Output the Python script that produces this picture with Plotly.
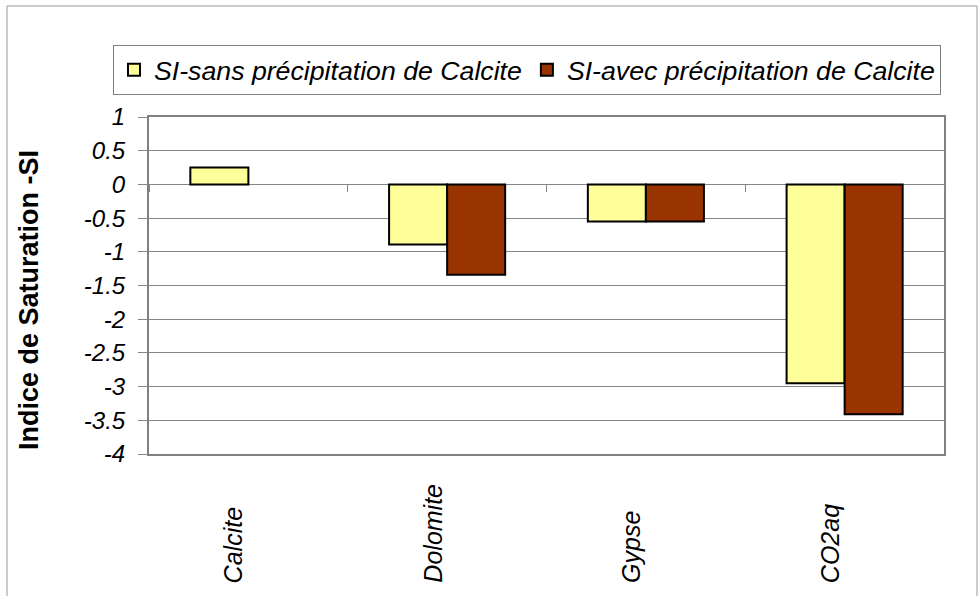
import plotly.graph_objects as go

# Saturation indices (SI) per mineral phase
categories = ["Calcite", "Dolomite", "Gypse", "CO2aq"]
si_sans = [0.25, -0.89, -0.55, -2.95]
si_avec = [None, -1.34, -0.55, -3.41]
series_names = ["SI-sans précipitation de Calcite", "SI-avec précipitation de Calcite"]
y_ticks = [1, 0.5, 0, -0.5, -1, -1.5, -2, -2.5, -3, -3.5, -4]

W, H = 979, 596
ML, MR, MT, MB = 149, 35, 117, 142
PW, PH = W - ML - MR, H - MT - MB


def px_x(p):
    return (p - ML) / PW


def px_y(p):
    return (H - MB - p) / PH


FONT = "Arial, 'Liberation Sans', sans-serif"
GRID = "#868686"

fig = go.Figure()
fig.add_trace(go.Bar(
    x=categories, y=si_sans, name=series_names[0],
    marker=dict(color="#FFFF99", line=dict(color="#000000", width=2)),
))
fig.add_trace(go.Bar(
    x=categories, y=si_avec, name=series_names[1],
    marker=dict(color="#993300", line=dict(color="#000000", width=2)),
))
# helper trace so the category-boundary tick axis is drawn
fig.add_trace(go.Scatter(x=[], y=[], xaxis="x2", showlegend=False, hoverinfo="skip"))

fig.update_layout(
    width=W, height=H,
    margin=dict(l=ML, r=MR, t=MT, b=MB),
    paper_bgcolor="white", plot_bgcolor="white",
    barmode="group", bargap=0.416, bargroupgap=0,
    font=dict(family=FONT, color="#000000"),
    showlegend=True,
    legend=dict(
        orientation="h",
        x=px_x(113), xanchor="left",
        y=px_y(45), yanchor="top",
        bordercolor="#808080", borderwidth=1,
        bgcolor="white",
        font=dict(family=FONT, size=26.7, style="italic"),
        itemwidth=30,
        traceorder="normal",
    ),
    xaxis=dict(
        type="category", range=[-0.5, 3.5],
        showticklabels=False, ticks="",
        showgrid=False, zeroline=False,
        showline=True, linecolor="#808080", linewidth=2, mirror=True,
    ),
    xaxis2=dict(
        overlaying="x", anchor="free", position=px_y(184.4),
        range=[-0.5, 3.5],
        tickvals=[-0.5, 0.5, 1.5, 2.5, 3.5],
        ticks="outside", ticklen=7, tickcolor=GRID, tickwidth=1,
        showticklabels=False, showgrid=False, zeroline=False, showline=False,
    ),
    yaxis=dict(
        range=[-4, 1], tickvals=y_ticks,
        ticktext=[str(v) if v != int(v) else str(int(v)) for v in y_ticks],
        ticks="outside", ticklen=9, tickcolor=GRID, tickwidth=1,
        ticklabelstandoff=8,
        tickfont=dict(family=FONT, size=24, style="italic"),
        showgrid=True, gridcolor=GRID, gridwidth=1,
        zeroline=False,
        showline=True, linecolor="#808080", linewidth=2, mirror=True,
    ),
)

# Y-axis title
fig.add_annotation(
    text="<b>Indice de Saturation -SI</b>",
    xref="paper", yref="paper", x=px_x(29), y=px_y(300),
    xanchor="center", yanchor="middle", textangle=-90,
    showarrow=False, font=dict(family=FONT, size=27),
)

# Rotated category labels, aligned on their start
for cat in categories:
    fig.add_annotation(
        text=cat, xref="x", yref="paper", x=cat, y=px_y(585),
        xanchor="center", yanchor="bottom", textangle=-90, xshift=-15,
        showarrow=False, font=dict(family=FONT, size=25, style="italic"),
    )

# Outer chart frame
fig.add_shape(
    type="rect", xref="paper", yref="paper",
    x0=px_x(7), x1=px_x(977), y0=px_y(620), y1=px_y(6),
    line=dict(color="#9a9a9a", width=1), fillcolor="rgba(0,0,0,0)", layer="below",
)

fig.write_html("out.html")
